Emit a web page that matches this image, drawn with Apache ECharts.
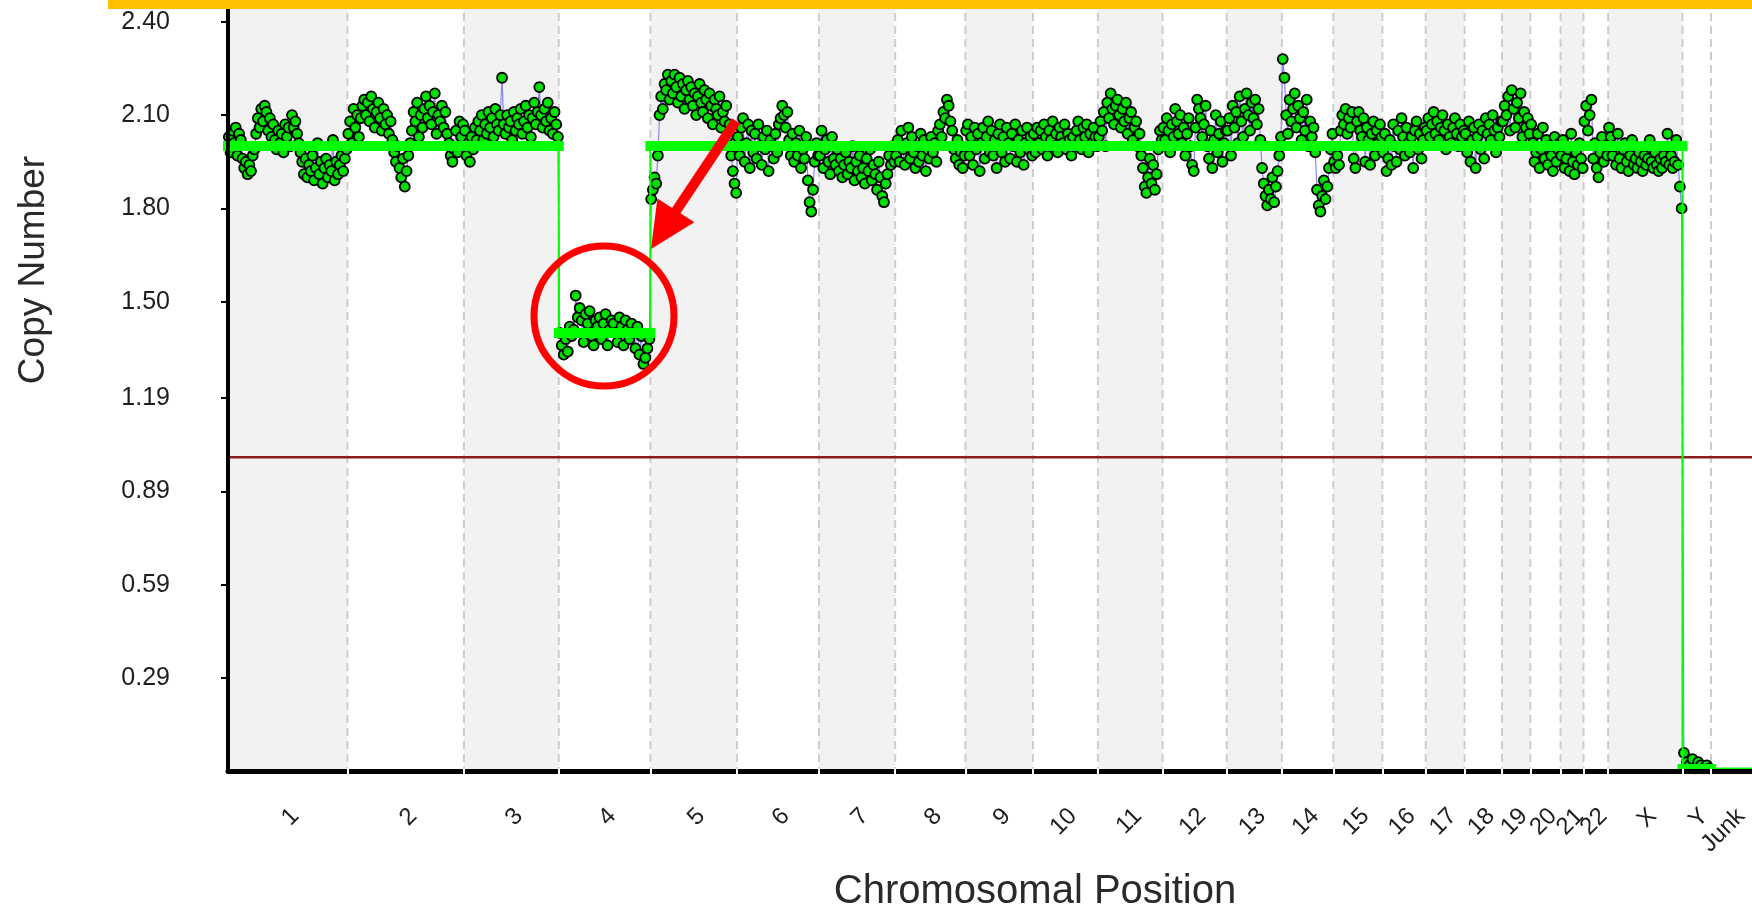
<!DOCTYPE html>
<html>
<head>
<meta charset="utf-8">
<title>Copy Number by Chromosomal Position</title>
<script src="https://cdn.jsdelivr.net/npm/echarts@6/dist/echarts.min.js"></script>
<style>
  html, body { margin: 0; padding: 0; background: #ffffff; }
  #chart { width: 1752px; height: 907px; }
</style>
</head>
<body>
<div id="chart"></div>
<script>
// ---- Data ---------------------------------------------------------------
const chromNames = ['1','2','3','4','5','6','7','8','9','10','11','12','13','14','15','16','17','18','19','20','21','22','X','Y','Junk'];
// chromosome sizes in Mb (Junk bin size approximate)
const chromLengthsMb = [249.3, 243.2, 198.0, 191.2, 180.9, 171.1, 159.1, 146.4, 141.2, 135.5, 135.0, 133.9, 115.2, 107.3, 102.5, 90.4, 81.2, 78.1, 59.1, 63.0, 48.1, 51.3, 155.3, 59.4, 94.0];

const yTickValues = [0.29, 0.59, 0.89, 1.19, 1.50, 1.80, 2.10, 2.40];

// probe copy-number estimates, in genomic order within each chromosome
const cnChr1 = [2.03, 1.98, 2.05, 2.01, 2.06, 1.97, 2.04, 2.02, 1.96, 1.93, 1.95, 1.91, 1.94, 1.92, 1.97, 1.99,
  2.04, 2.09, 2.06, 2.12, 2.08, 2.13, 2.11, 2.05, 2.09, 2.03, 2.07, 2.02, 1.99, 2.05, 2.01, 2.04, 1.98, 2.07, 2.03, 2.06, 2.00,
  2.10, 2.06, 2.08, 2.04, 2.01, 1.98, 1.95, 1.91, 1.96, 1.90, 1.94, 1.92, 1.97, 1.89, 1.93, 2.01, 1.91, 1.95, 1.88, 1.93,
  1.96, 1.90, 1.94, 1.92, 2.02, 1.89, 1.95, 1.91, 1.94, 1.97, 1.92, 1.96, 1.99];
const cnChr2 = [2.04, 2.08, 2.01, 2.12, 2.06, 2.10, 2.03, 2.09, 2.13, 2.15, 2.10, 2.14, 2.08, 2.16, 2.12, 2.06, 2.11, 2.14,
  2.09, 2.05, 2.12, 2.07, 2.10, 2.04, 2.08, 2.02, 1.98, 1.95, 2.00, 1.93, 1.90, 1.96, 1.87, 1.92, 1.97, 2.01,
  2.05, 2.11, 2.08, 2.14, 2.03, 2.10, 2.06, 2.12, 2.16, 2.09, 2.13, 2.07, 2.11, 2.17, 2.04, 2.10, 2.08, 2.13, 2.06, 2.11, 2.04,
  2.01, 1.97, 1.95, 1.99, 2.05, 1.98, 2.08, 2.03, 2.07];
const cnChr3 = [2.05, 1.97, 2.01, 1.95, 2.03, 1.99, 2.06, 2.02, 2.08, 2.05, 2.10, 2.02, 2.07, 2.04, 2.11, 2.06, 2.09, 2.03,
  2.12, 2.07, 2.05, 2.10, 2.22, 2.07, 2.04, 2.10, 2.06, 2.08, 2.02, 2.11, 2.05, 2.09, 2.07, 2.12, 2.04, 2.08, 2.13, 2.06,
  2.10, 2.03, 2.09, 2.14, 2.07, 2.11, 2.19, 2.10, 2.06, 2.12, 2.08, 2.14, 2.05, 2.09, 2.04, 2.11, 2.07, 2.03];
const cnChr4 = [1.40, 1.36, 1.33, 1.38, 1.34, 1.42, 1.39, 1.41, 1.52, 1.45, 1.48, 1.44, 1.37, 1.46, 1.43, 1.47, 1.39, 1.36,
  1.44, 1.42, 1.45, 1.38, 1.43, 1.46, 1.36, 1.41, 1.44, 1.43, 1.40, 1.37, 1.45, 1.42, 1.36, 1.44, 1.41, 1.38, 1.43, 1.40,
  1.35, 1.42, 1.33, 1.39, 1.30, 1.32, 1.35, 1.38];
const cnChr5 = [1.83, 1.86, 1.90, 1.88, 1.97, 2.10, 2.16, 2.12, 2.20, 2.18, 2.23, 2.15, 2.21, 2.17, 2.23, 2.19, 2.14, 2.22,
  2.16, 2.20, 2.12, 2.18, 2.21, 2.15, 2.19, 2.13, 2.17, 2.10, 2.16, 2.20, 2.14, 2.11, 2.18, 2.15, 2.09, 2.17, 2.13, 2.07,
  2.15, 2.12, 2.10, 2.16, 2.06, 2.11, 2.08, 2.13, 2.03, 2.07, 1.97, 1.92, 1.88, 1.85];
const cnChr6 = [2.03, 1.97, 2.06, 2.09, 1.95, 2.01, 2.07, 1.93, 2.05, 1.98, 2.04, 1.96, 2.07, 2.00, 1.94, 2.03, 1.99, 2.05,
  1.92, 2.02, 2.00, 1.96, 2.04, 1.98, 2.07, 2.09, 2.13, 2.10, 2.06, 2.11, 2.02, 1.97, 2.04, 1.95, 2.01, 1.97, 2.05, 1.93,
  1.99, 1.96, 2.03, 1.89, 1.82, 1.79, 1.86, 1.95, 2.01, 1.97];
const cnChr7 = [1.97, 2.05, 1.93, 1.99, 2.02, 1.95, 1.91, 2.03, 1.96, 1.94, 1.99, 1.92, 1.96, 1.90, 1.94, 1.98, 1.91, 1.95,
  1.93, 2.00, 1.89, 1.95, 1.92, 1.97, 1.90, 1.93, 1.88, 1.96, 1.92, 1.99, 1.89, 1.94, 1.91, 1.86, 1.95, 1.90, 1.84, 1.82,
  1.88, 1.91, 1.97, 1.94, 2.00, 1.95];
const cnChr8 = [1.97, 2.02, 1.95, 2.05, 1.99, 1.94, 2.01, 2.06, 1.96, 2.03, 1.98, 1.93, 2.00, 1.95, 2.04, 1.97, 2.02, 1.92,
  1.99, 1.96, 2.03, 1.98, 2.01, 1.95, 2.05, 2.07, 2.03, 2.11, 2.09, 2.15, 2.13, 2.08, 2.05, 1.99, 1.96, 2.02, 1.94, 1.98,
  1.93, 1.97];
const cnChr9 = [2.05, 2.07, 1.97, 2.03, 1.94, 2.06, 1.99, 2.04, 1.92, 2.01, 2.06, 1.96, 2.03, 2.08, 1.98, 2.05, 1.97, 2.02,
  1.93, 2.04, 2.07, 1.98, 2.03, 1.95, 2.06, 2.01, 1.96, 2.04, 2.00, 2.07, 1.95, 2.02, 1.98, 2.05, 1.94, 2.01, 2.06, 1.99,
  2.03, 1.97];
const cnChr10 = [2.04, 1.98, 2.06, 2.01, 2.05, 1.99, 2.07, 2.03, 1.97, 2.05, 2.02, 2.08, 2.00, 2.04, 1.98, 2.06, 2.03, 2.01,
  2.07, 1.99, 2.04, 2.02, 1.97, 2.03, 2.00, 2.05, 2.08, 2.02, 1.99, 2.06, 2.03, 2.07, 1.98, 2.04, 2.01, 2.06, 2.03, 2.00];
const cnChr11 = [2.03, 2.08, 2.05, 2.11, 2.00, 2.14, 2.09, 2.17, 2.12, 2.07, 2.13, 2.15, 2.10, 2.06, 2.12, 2.08, 2.14, 2.04,
  2.09, 2.11, 2.02, 2.06, 2.08, 2.00, 2.04, 1.97, 1.93, 1.87, 1.85, 1.90, 1.96, 1.88, 1.94, 1.86, 1.91, 1.99, 2.05, 2.02];
const cnChr12 = [2.06, 2.02, 2.09, 2.05, 1.98, 2.07, 2.03, 2.12, 2.08, 2.04, 2.10, 2.01, 2.06, 1.97, 2.04, 2.09, 2.00, 1.94,
  1.92, 2.06, 2.15, 2.12, 2.09, 2.03, 2.07, 2.13, 2.00, 1.96, 2.05, 1.93, 2.02, 2.10, 1.98, 2.04, 2.08, 1.95, 2.01, 2.05];
const cnChr13 = [2.05, 2.09, 1.97, 2.13, 2.06, 2.11, 2.01, 2.16, 2.08, 2.03, 2.12, 2.17, 2.10, 2.05, 2.14, 2.09, 2.15, 2.07,
  2.12, 2.02, 1.93, 1.88, 1.84, 1.81, 1.86, 1.83, 1.90, 1.82, 1.87, 1.92, 1.97, 2.03];
const cnChr14 = [2.28, 2.22, 2.10, 2.04, 2.15, 2.08, 2.12, 2.17, 2.06, 2.13, 2.09, 2.02, 2.11, 2.05, 2.15, 2.00, 2.08, 2.03,
  2.06, 1.98, 1.86, 1.81, 1.79, 1.84, 1.89, 1.83, 1.87, 1.93, 1.99, 2.04];
const cnChr15 = [1.95, 1.93, 1.97, 1.94, 2.05, 2.10, 2.07, 2.12, 2.04, 2.09, 2.06, 2.11, 1.96, 1.93, 2.08, 2.11, 2.05, 2.03,
  2.09, 1.95, 2.06, 2.02, 1.94, 2.04, 2.08, 1.97, 2.05, 2.01, 2.07, 2.03];
const cnChr16 = [1.98, 2.04, 1.92, 1.96, 2.02, 1.94, 2.07, 2.00, 1.95, 2.05, 1.99, 2.09, 2.03, 1.97, 2.06, 2.01, 1.98, 2.03,
  1.93, 2.05, 2.08, 1.99, 2.04, 1.96, 2.02, 2.06];
const cnChr17 = [2.05, 2.09, 2.03, 2.07, 2.11, 2.04, 2.08, 2.02, 2.06, 2.10, 2.05, 1.99, 2.07, 2.03, 2.01, 2.06, 2.09, 2.04,
  2.00, 2.07, 2.03, 2.05];
const cnChr18 = [2.04, 1.98, 2.08, 1.95, 2.02, 2.06, 1.93, 2.03, 2.07, 1.99, 2.05, 1.96, 2.09, 2.04, 2.07, 2.02, 2.10, 2.05,
  1.98, 2.06, 2.03, 2.08];
const cnChr19 = [2.08, 2.13, 2.10, 2.16, 2.05, 2.18, 2.12, 2.06, 2.14, 2.09, 2.17, 2.03, 2.11, 2.06, 2.09, 2.04];
const cnChr20 = [2.07, 2.01, 1.95, 1.98, 2.04, 1.93, 1.99, 2.06, 1.96, 2.02, 1.94, 2.00, 1.97, 1.92, 2.03, 1.95, 1.99, 2.01];
const cnChr21 = [1.97, 2.02, 1.93, 1.96, 1.99, 1.92, 2.04, 1.95, 1.91, 1.98, 1.94, 2.01, 1.96, 1.93];
const cnChr22 = [2.08, 2.13, 2.05, 2.10, 2.15, 1.96, 2.01, 1.93, 1.90, 1.98, 2.03, 1.95, 2.00, 1.97];
const cnChrX = [2.06, 2.03, 1.97, 2.00, 1.94, 2.04, 1.96, 1.93, 1.99, 2.01, 1.95, 1.92, 1.97, 2.02, 1.94, 1.96, 1.93, 1.98,
  1.95, 1.92, 1.97, 1.94, 1.96, 2.02, 1.95, 1.93, 1.98, 1.94, 1.92, 1.96, 1.93, 1.97, 1.95, 2.04, 1.94, 1.97, 1.93, 1.95,
  2.02, 1.94, 1.87, 1.80];
const cnChrY = [0.05, 0.02, 0.01, 0.03, 0.00, 0.02, 0.01, 0.00, 0.01, 0.00];

// segmented copy-number calls
const segmentFrom = ['1', '4', '5', 'Y'];
const segmentTo = ['3', '4', 'X', 'Y'];
const segmentCopyNumber = [2.0, 1.4, 2.0, 0.0];

const referenceLevel = 1.0;

// ---- Derived geometry (genomic coordinates) ------------------------------
const copyNumberByChrom = [cnChr1, cnChr2, cnChr3, cnChr4, cnChr5, cnChr6, cnChr7, cnChr8, cnChr9, cnChr10,
  cnChr11, cnChr12, cnChr13, cnChr14, cnChr15, cnChr16, cnChr17, cnChr18, cnChr19, cnChr20,
  cnChr21, cnChr22, cnChrX, cnChrY];

const chromStarts = [];
let cumulative = 0;
chromLengthsMb.forEach(len => { chromStarts.push(cumulative); cumulative += len; });
const xMax = cumulative;
const chromEnds = chromStarts.map((s, i) => s + chromLengthsMb[i]);
const chromMids = chromStarts.map((s, i) => s + chromLengthsMb[i] / 2);
const chromBoundaries = chromStarts.slice(1);

// rotated chromosome names sit a little right of the band centre
const labelNudgeMb = 16;
const labelPositions = chromMids.map(m => m + labelNudgeMb);

const yAxisMin = -0.01;
const yAxisMax = 2.47;

// probes spread evenly along each chromosome
const probePoints = [];
copyNumberByChrom.forEach((vals, i) => {
  const s = chromStarts[i], len = chromLengthsMb[i];
  vals.forEach((v, j) => probePoints.push([s + (j + 0.5) / vals.length * len, v]));
});

const segmentCoords = segmentFrom.map((from, k) => {
  const a = chromStarts[chromNames.indexOf(from)];
  const b = chromEnds[chromNames.indexOf(segmentTo[k])];
  return [[a, segmentCopyNumber[k]], [b, segmentCopyNumber[k]]];
});
const stepPath = [];
segmentCoords.forEach(c => stepPath.push(c[0], c[1]));
stepPath.push([xMax, segmentCopyNumber[segmentCopyNumber.length - 1]]);

// alternating shading for chromosomes 1..X
const bandData = [];
chromNames.forEach((name, i) => {
  if (i % 2 === 0 && name !== 'Junk') bandData.push([chromStarts[i], chromEnds[i], 0]);
});

// ---- Chart ----------------------------------------------------------------
const FONT = "'Liberation Sans', Arial, Helvetica, sans-serif";
const chart = echarts.init(document.getElementById('chart'), null, { renderer: 'canvas' });

function chromLabel(value) {
  let best = 0, bestD = Infinity;
  labelPositions.forEach((m, i) => { const d = Math.abs(m - value); if (d < bestD) { bestD = d; best = i; } });
  return chromNames[best];
}

const option = {
  animation: false,
  backgroundColor: '#ffffff',
  grid: { left: 228, right: -4, top: 0, bottom: 135.5, containLabel: false, outerBoundsMode: 'none' },
  xAxis: [
    {
      type: 'value', min: 0, max: xMax, z: 10,
      axisLine: { show: true, onZero: false, lineStyle: { color: '#000000', width: 5 } },
      axisTick: { show: true, customValues: chromBoundaries, inside: true, length: 3, lineStyle: { color: '#ffffff', width: 2 } },
      axisLabel: {
        show: true, customValues: labelPositions, formatter: chromLabel, rotate: 45, margin: 41,
        fontSize: 24, fontFamily: FONT, color: '#1e1e1e'
      },
      splitLine: { show: false }
    },
    {
      type: 'value', min: 0, max: xMax, position: 'bottom', z: 10,
      axisLine: { show: false, onZero: false },
      axisTick: { show: true, customValues: chromBoundaries, inside: false, length: 3, lineStyle: { color: '#ffffff', width: 2 } },
      axisLabel: { show: false },
      splitLine: { show: false }
    }
  ],
  yAxis: {
    type: 'value', min: yAxisMin, max: yAxisMax, z: 10,
    axisLine: { show: true, onZero: false, lineStyle: { color: '#000000', width: 4 } },
    axisTick: { show: true, customValues: yTickValues, length: 7, lineStyle: { color: '#000000', width: 2 } },
    axisLabel: {
      show: true, customValues: yTickValues, formatter: v => v.toFixed(2), margin: 58,
      fontSize: 25, fontFamily: FONT, color: '#1e1e1e'
    },
    splitLine: { show: false }
  },
  series: [
    {
      name: 'bands', type: 'custom', z: 1, silent: true, xAxisIndex: 0,
      encode: { x: [0, 1], y: 2 },
      data: bandData,
      renderItem: (params, api) => {
        const p0 = api.coord([api.value(0), yAxisMax]);
        const p1 = api.coord([api.value(1), yAxisMin]);
        return { type: 'rect', shape: { x: p0[0], y: p0[1], width: p1[0] - p0[0], height: p1[1] - p0[1] }, style: { fill: '#f2f2f2' } };
      }
    },
    {
      name: 'boundaries', type: 'custom', z: 1, silent: true, xAxisIndex: 0,
      encode: { x: 0, y: 1 },
      data: chromBoundaries.map(b => [b, 0]),
      renderItem: (params, api) => {
        const p0 = api.coord([api.value(0), yAxisMax]);
        const p1 = api.coord([api.value(0), yAxisMin]);
        return { type: 'line', shape: { x1: p0[0], y1: p0[1], x2: p1[0], y2: p1[1] }, style: { stroke: '#cdcdcd', lineWidth: 2, lineDash: [8, 5] } };
      }
    },
    {
      name: 'reference', type: 'line', z: 2, silent: true, symbol: 'none',
      data: [[0, referenceLevel], [xMax, referenceLevel]],
      lineStyle: { color: '#8a1c1c', width: 2.5 }
    },
    {
      name: 'probe trace', type: 'line', z: 3, silent: true, symbol: 'none', showSymbol: false,
      data: probePoints,
      lineStyle: { color: '#8787ea', width: 1.2 }
    },
    {
      name: 'probes', type: 'scatter', z: 4, silent: true,
      data: probePoints, symbol: 'circle', symbolSize: 10,
      itemStyle: { color: '#00e000', borderColor: '#000000', borderWidth: 1.8, opacity: 1 }
    },
    {
      name: 'segment path', type: 'line', z: 5, silent: true, symbol: 'none',
      data: stepPath,
      lineStyle: { color: '#00ff00', width: 2 }
    },
    {
      name: 'segments', type: 'lines', coordinateSystem: 'cartesian2d', z: 6, silent: true,
      data: segmentCoords.map(c => ({ coords: c })),
      lineStyle: { color: '#00ff00', width: 10, opacity: 1, cap: 'square', curveness: 0 }
    }
  ],
  graphic: [
    {
      type: 'rect', z: 100, silent: true,
      shape: { x: 108, y: 0, width: 1644, height: 9 },
      style: { fill: '#ffc000' }
    },
    {
      type: 'text', z: 100, silent: true, x: 34, y: 270, rotation: Math.PI / 2,
      style: { text: 'Copy Number', fontSize: 37, fontFamily: FONT, fill: '#2a2a2a',
        align: 'center', verticalAlign: 'middle', textAlign: 'center', textVerticalAlign: 'middle' }
    },
    {
      type: 'text', z: 100, silent: true, x: 1035, y: 892,
      style: { text: 'Chromosomal Position', fontSize: 40, fontFamily: FONT, fill: '#2a2a2a',
        align: 'center', verticalAlign: 'middle', textAlign: 'center', textVerticalAlign: 'middle' }
    },
    {
      type: 'circle', z: 100, silent: true,
      shape: { cx: 604, cy: 316, r: 70 },
      style: { fill: 'none', stroke: '#ff0000', lineWidth: 7 }
    },
    {
      type: 'line', z: 100, silent: true,
      shape: { x1: 736, y1: 121, x2: 674, y2: 214 },
      style: { stroke: '#ff0000', lineWidth: 10, lineCap: 'butt' }
    },
    {
      type: 'polygon', z: 100, silent: true,
      shape: { points: [[651, 249], [694.4, 222.2], [657.4, 198.4]] },
      style: { fill: '#ff0000' }
    }
  ]
};

chart.setOption(option);
</script>
</body>
</html>
